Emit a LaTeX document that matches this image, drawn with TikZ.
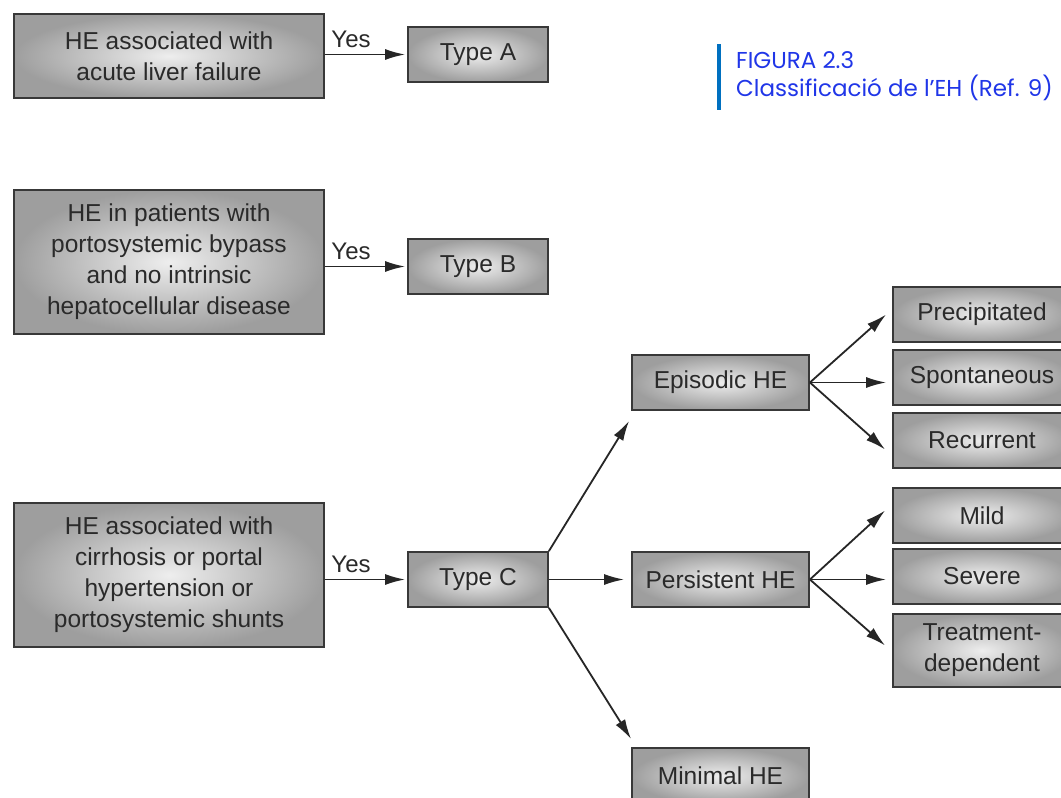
\documentclass[tikz,border=0pt]{standalone}
\usepackage{fontspec}
\setmainfont{Liberation Sans}
\newfontfamily\titlefont{Poppins}
\usetikzlibrary{arrows.meta,calc}
\definecolor{boxedge}{HTML}{383838}
\definecolor{boxout}{HTML}{9E9E9E}
\definecolor{boxin}{HTML}{EEEEEE}
\definecolor{txt}{HTML}{2A2A2A}
\definecolor{titlebar}{HTML}{0070C0}
\definecolor{titletxt}{HTML}{2036E8}
\begin{document}
\begin{tikzpicture}[x=1pt,y=-1pt,
  box/.style={draw=boxedge, line width=1.8pt, inner color=boxin, outer color=boxout,
    text=txt, align=center, font=\fontsize{24.5}{31}\selectfont, inner sep=0pt},
  arr/.style={draw=black!85, line width=1.8pt, -{Latex[length=20pt,width=11pt]}},
  yes/.style={text=txt, font=\fontsize{24}{26}\selectfont, inner sep=0pt}]
\useasboundingbox (0,0) rectangle (1061,798);
\fill[white] (0,0) rectangle (1061,798);
\clip (0,0) rectangle (1061,798);
% left column
\node[box, minimum width=310, minimum height=84] (qa) at (169,56) {HE associated with\\acute liver failure};
\node[box, minimum width=310, minimum height=144] (qb) at (169,262) {HE in patients with\\portosystemic bypass\\and no intrinsic\\hepatocellular disease};
\node[box, minimum width=310, minimum height=144] (qc) at (169,575) {HE associated with\\cirrhosis or portal\\hypertension or\\portosystemic shunts};
% types
\node[box, minimum width=140, minimum height=55] (ta) at (478,54.5) {Type A};
\node[box, minimum width=140, minimum height=55] (tb) at (478,266.5) {Type B};
\node[box, minimum width=140, minimum height=55] (tc) at (478,579.5) {Type C};
% middle
\node[box, minimum width=177, minimum height=55] (epi) at (720.5,382.5) {Episodic HE};
\node[box, minimum width=177, minimum height=55] (per) at (720.5,579.5) {Persistent HE};
\node[box, minimum width=177, minimum height=56] (mini) at (720.5,776) {Minimal HE};
% right
\node[box, minimum width=178, minimum height=55] (pre) at (982,314.5) {Precipitated};
\node[box, minimum width=178, minimum height=55] (spo) at (982,377.5) {Spontaneous};
\node[box, minimum width=178, minimum height=55] (rec) at (982,440.5) {Recurrent};
\node[box, minimum width=178, minimum height=55] (mil) at (982,515.5) {Mild};
\node[box, minimum width=178, minimum height=55] (sev) at (982,576.5) {Severe};
\node[box, minimum width=178, minimum height=73] (tre) at (982,650.5) {Treatment-\\dependent};
% yes arrows
\draw[arr] (qa.east |- ta.west) -- ([xshift=-2pt]ta.west) node[yes, midway, above=6pt, xshift=-14pt] (ya) {Yes};
\draw[arr] (qb.east |- tb.west) -- ([xshift=-2pt]tb.west) node[yes, midway, above=6pt, xshift=-14pt] (yb) {Yes};
\draw[arr] (qc.east |- tc.west) -- ([xshift=-2pt]tc.west) node[yes, midway, above=6pt, xshift=-14pt] (yc) {Yes};
% type C branches
\draw[arr] (tc.north east) -- ($(epi.south west)+(-2,10)$);
\draw[arr] (tc.east) -- ($(per.west)+(-7,0)$);
\draw[arr] (tc.south east) -- ($(mini.north west)+(0,-8)$);
% episodic
\draw[arr] (epi.east) -- ($(pre.west)+(-6,0)$);
\draw[arr] (epi.east) -- ($(epi.east -| spo.west)+(-6,0)$);
\draw[arr] (epi.east) -- ($(rec.west)+(-7,9)$);
% persistent
\draw[arr] (per.east) -- ($(mil.west)+(-7,-5)$);
\draw[arr] (per.east) -- ($(per.east -| sev.west)+(-6,0)$);
\draw[arr] (per.east) -- ($(tre.west)+(-7,-5)$);
% title
\fill[titlebar] (717,44) rectangle (721,110);
\node[anchor=base west, inner sep=0pt, text=titletxt, font=\titlefont\fontsize{23}{27}\selectfont] (fig) at (736,68) {FIGURA 2.3};
\node[anchor=base west, inner sep=0pt, text=titletxt, font=\titlefont\fontsize{23}{27}\selectfont] (cap) at (736,96) {Classificació de l’EH (Ref. 9)};
\end{tikzpicture}
\end{document}
